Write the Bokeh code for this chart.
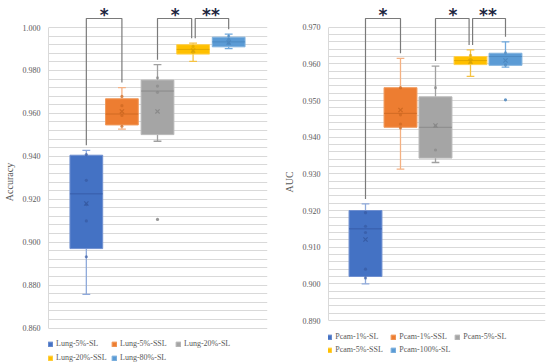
from bokeh.plotting import figure
from bokeh.models import FixedTicker, Legend, LegendItem, NumeralTickFormatter
from bokeh.layouts import row
from bokeh.embed import file_html
from bokeh.resources import INLINE
from bokeh.core.properties import value

# ---------------- data ----------------
positions = [1, 2, 3, 4, 5]

lung_labels = ["Lung-5%-SL", "Lung-5%-SSL", "Lung-20%-SL", "Lung-20%-SSL", "Lung-80%-SL"]
lung_q1 = [0.8970, 0.9546, 0.9501, 0.9876, 0.9910]
lung_median = [0.9225, 0.9597, 0.9704, 0.9898, 0.9933]
lung_q3 = [0.9405, 0.9668, 0.9755, 0.9920, 0.9955]
lung_low = [0.8757, 0.9527, 0.9470, 0.9842, 0.9902]
lung_high = [0.9428, 0.9720, 0.9827, 0.9927, 0.9969]
lung_mean = [0.9180, 0.9609, 0.9609, 0.9893, 0.9930]
lung_points = [
    [0.9408, 0.9288, 0.9175, 0.9099, 0.8932],
    [0.9679, 0.9636, 0.9590, 0.9540],
    [0.9766, 0.9727, 0.9698],
    [0.9912, 0.9895, 0.9885],
    [0.9960, 0.9945, 0.9925],
]
lung_outliers = [[], [], [0.9106], [], []]
lung_ticks = [0.860, 0.880, 0.900, 0.920, 0.940, 0.960, 0.980, 1.000]
lung_sig = [(1, 2, "*"), (3, 4, "*"), (4, 5, "**")]

pcam_labels = ["Pcam-1%-SL", "Pcam-1%-SSL", "Pcam-5%-SL", "Pcam-5%-SSL", "Pcam-100%-SL"]
pcam_q1 = [0.9020, 0.9427, 0.9343, 0.9598, 0.9596]
pcam_median = [0.9150, 0.9465, 0.9427, 0.9609, 0.9620]
pcam_q3 = [0.9200, 0.9535, 0.9510, 0.9620, 0.9629]
pcam_low = [0.9000, 0.9313, 0.9331, 0.9566, 0.9591]
pcam_high = [0.9218, 0.9615, 0.9594, 0.9638, 0.9660]
pcam_mean = [0.9121, 0.9474, 0.9432, 0.9606, 0.9609]
pcam_points = [
    [0.9194, 0.9157, 0.9140, 0.9040, 0.9016],
    [0.9535, 0.9461, 0.9436, 0.9425],
    [0.9535, 0.9430, 0.9365],
    [0.9623, 0.9612, 0.9603],
    [0.9630, 0.9597],
]
pcam_outliers = [[], [], [], [], [0.9502]]
pcam_ticks = [0.890, 0.900, 0.910, 0.920, 0.930, 0.940, 0.950, 0.960, 0.970]
pcam_sig = [(1, 2, "*"), (3, 4, "*"), (4, 5, "**")]

# ---------------- styles ----------------
FILL = ["#4472C4", "#ED7D31", "#A5A5A5", "#FFC000", "#5B9BD5"]
EDGE = ["#6F8FD0", "#F19A5C", "#B8B8B8", "#FFD04D", "#80B2DE"]
WHISK = ["#8EA9DB", "#F4B183", "#A0A0A0", "#F5C242", "#6FA8DC"]
DARK = ["#3558A0", "#C9651F", "#858585", "#D9A300", "#4A85BD"]
GRID = "#D9D9D9"
TXT = "#595959"
SERIF = "Liberation Serif"
H = 363


def make_chart(labels, q1, med, q3, low, high, mean, pts, outs, ticks, minor_step,
               sig, ylabel, px, top_px, bottom_px, x_start, x_end, width,
               b_left, b_right, box_w, legend_loc, legend_spacing, legend_lw):
    # top_px / bottom_px: screen rows (from figure top) of the first and last tick
    y_end = ticks[-1] + top_px * px
    y_start = ticks[0] - (H - bottom_px) * px
    p = figure(width=width, height=H, x_range=(x_start, x_end), y_range=(y_start, y_end),
               output_backend="svg", toolbar_location=None, x_axis_location=None,
               min_border_left=b_left, min_border_right=b_right,
               min_border_top=0, min_border_bottom=0)

    p.outline_line_color = None
    p.background_fill_color = "white"
    p.xgrid.grid_line_color = None

    n_minor = int(round((ticks[-1] - ticks[0]) / minor_step))
    minor = [round(ticks[0] + k * minor_step, 4) for k in range(n_minor + 1)]
    minor = [m for m in minor if all(abs(m - t) > 1e-6 for t in ticks)]
    p.yaxis.ticker = FixedTicker(ticks=ticks, minor_ticks=minor)
    p.yaxis.bounds = (ticks[0], ticks[-1])
    p.yaxis.formatter = NumeralTickFormatter(format="0.000")
    p.ygrid.grid_line_color = GRID
    p.ygrid.minor_grid_line_color = GRID
    p.ygrid.grid_line_width = 1
    p.yaxis.axis_line_color = GRID
    p.yaxis.major_tick_line_color = None
    p.yaxis.minor_tick_line_color = None
    p.yaxis.major_tick_out = 0
    p.yaxis.major_tick_in = 0
    p.yaxis.major_label_standoff = 4
    p.yaxis.major_label_text_font = SERIF
    p.yaxis.major_label_text_font_size = "8px"
    p.yaxis.major_label_text_color = TXT
    p.yaxis.axis_label = ylabel
    p.yaxis.axis_label_text_font = SERIF
    p.yaxis.axis_label_text_font_size = "10px"
    p.yaxis.axis_label_text_font_style = "normal"
    p.yaxis.axis_label_text_color = TXT
    p.yaxis.axis_label_standoff = 5

    cap = 0.11
    items = []
    for i, x in enumerate(positions):
        # whiskers
        p.segment(x0=[x, x], y0=[q3[i], q1[i]], x1=[x, x], y1=[high[i], low[i]],
                  line_color=WHISK[i], line_width=1.3)
        p.segment(x0=[x - cap, x - cap], y0=[high[i], low[i]], x1=[x + cap, x + cap], y1=[high[i], low[i]],
                  line_color=WHISK[i], line_width=1.3)
        # box
        r = p.vbar(x=[x], width=box_w, bottom=[q1[i]], top=[q3[i]],
                   fill_color=FILL[i], line_color=EDGE[i], line_width=1)
        items.append(LegendItem(label=labels[i], renderers=[r]))
        # median
        p.segment(x0=[x - box_w / 2], y0=[med[i]], x1=[x + box_w / 2], y1=[med[i]],
                  line_color=DARK[i], line_width=1, line_alpha=0.8)
        # inner points
        p.scatter(x=[x] * len(pts[i]), y=pts[i], marker="circle", size=3.2,
                  fill_color=DARK[i], fill_alpha=0.65, line_color=None)
        if outs[i]:
            p.scatter(x=[x] * len(outs[i]), y=outs[i], marker="circle", size=3.2,
                      fill_color=DARK[i], fill_alpha=0.85, line_color=None)
        # mean
        p.scatter(x=[x], y=[mean[i]], marker="x", size=6, line_color=DARK[i],
                  line_width=1.2, line_alpha=0.85)

    # significance brackets
    gap = 5 * px
    top_y = y_end - 18 * px
    rights = [b for (_, b, _) in sig]
    lefts = [a for (a, _, _) in sig]
    for (a, b, mark) in sig:
        xa = a + (0.06 if a in rights else 0.0)
        xb = b - (0.04 if b in lefts else 0.0)
        ya = high[a - 1] + gap
        yb = high[b - 1] + gap
        p.line(x=[xa, xa, xb, xb], y=[ya, top_y, top_y, yb], line_color="#7A7A7A", line_width=1.2)
        p.text(x=[(a + b) / 2], y=[y_end - 14.3 * px], text=[mark], text_align="center",
               text_baseline="middle", text_font=value("DejaVu Sans"), text_font_style="bold",
               text_font_size="17px", text_color="#1E2640")

    legend = Legend(items=items, location=legend_loc, orientation="horizontal", ncols=3,
                    glyph_width=6, glyph_height=6, label_width=legend_lw, label_height=10,
                    label_standoff=3, spacing=legend_spacing, padding=0, margin=0,
                    border_line_color=None, background_fill_alpha=0,
                    label_text_font=SERIF, label_text_font_size="8px", label_text_color=TXT)
    p.add_layout(legend, "center")
    return p


# left: Accuracy
left = make_chart(lung_labels, lung_q1, lung_median, lung_q3, lung_low, lung_high, lung_mean,
                  lung_points, lung_outliers, lung_ticks, 0.004, lung_sig, "Accuracy",
                  px=0.14 / 300.5, top_px=27, bottom_px=327.5,
                  x_start=-0.063, x_end=6.091, width=280,
                  b_left=47, b_right=13, box_w=0.92,
                  legend_loc=(-1, 0.5), legend_spacing=4, legend_lw=51)

# right: AUC
right = make_chart(pcam_labels, pcam_q1, pcam_median, pcam_q3, pcam_low, pcam_high, pcam_mean,
                   pcam_points, pcam_outliers, pcam_ticks, 0.002, pcam_sig, "AUC",
                   px=0.08 / 293.3, top_px=26.7, bottom_px=320,
                   x_start=-0.057, x_end=6.143, width=274,
                   b_left=48, b_right=9, box_w=0.94,
                   legend_loc=(-1.7, 8.3), legend_spacing=3, legend_lw=52)

layout = row(left, right)
open("out.html", "w").write(file_html(layout, INLINE))
